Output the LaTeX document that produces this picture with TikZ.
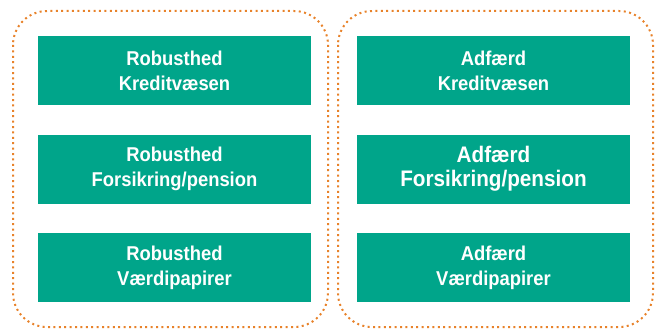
\documentclass[tikz,border=0pt]{standalone}
\usepackage{fontspec}
\setmainfont{Liberation Sans}[FakeStretch=0.92]
\begin{document}
\begin{tikzpicture}[x=1pt,y=-1pt,
  tile/.style={rectangle, fill=tealgreen, text=white, inner sep=0pt,
    minimum width=273pt, minimum height=69pt, align=center,
    font=\bfseries\fontsize{20}{25}\selectfont},
  bigtile/.style={tile, font=\bfseries\fontsize{22.5}{24}\selectfont},
  group/.style={draw=dotorange, line width=2pt, rounded corners=34pt,
    dash pattern=on 2pt off 3.4pt}]
\definecolor{tealgreen}{RGB}{0,165,138}
\definecolor{dotorange}{RGB}{232,130,42}
\useasboundingbox (0,0) rectangle (660,329);

% dotted group frames
\draw[group] (13,11) rectangle (328,327);
\draw[group] (338,11) rectangle (653,327);

% left column
\node[tile] (rk) at (174.5,70.5) {Robusthed\\Kreditvæsen};
\node[tile] (rf) at (174.5,169) {Robusthed\\Forsikring/pension};
\node[tile] (rv) at (174.5,267.5) {Robusthed\\Værdipapirer};

% right column
\node[tile] (ak) at (493.5,70.5) {Adfærd\\Kreditvæsen};
\node[bigtile] (af) at (493.5,169) {Adfærd\\Forsikring/pension};
\node[tile] (av) at (493.5,267.5) {Adfærd\\Værdipapirer};
\end{tikzpicture}
\end{document}
